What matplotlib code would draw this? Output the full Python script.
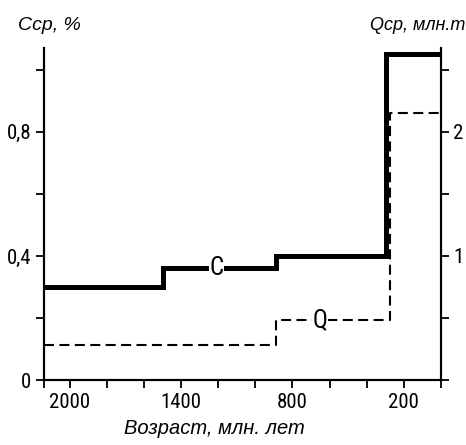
import matplotlib
matplotlib.use("Agg")
import matplotlib.pyplot as plt
from matplotlib import font_manager
from matplotlib.ft2font import FT2Font

# step boundaries (age, Ma) and mean values per interval
c_edges = [2140, 1500, 890, 295, 0]
c_values = [0.30, 0.36, 0.40, 1.05]
q_edges = [2140, 890, 275, 0]
q_values = [0.28, 0.48, 2.15]

x_ticks = [2140, 2000, 1800, 1600, 1400, 1200, 1000, 800, 600, 400, 200, 0]
x_labels = ["", "2000", "", "", "1400", "", "", "800", "", "", "200", ""]
c_ticks = [0, 0.2, 0.4, 0.6, 0.8, 1.0]
c_labels = ["0", "", "0,4", "", "0,8", ""]
q_ticks = [0, 0.5, 1, 1.5, 2, 2.5]
q_labels = ["", "", "1", "", "2", ""]


def has_cyrillic(path):
    try:
        return ord("л") in FT2Font(path).get_charmap()
    except Exception:
        return False


# narrow face with Cyrillic for numbers, if any is installed
preferred = ["Liberation Sans Narrow", "Arial Narrow", "PT Sans Narrow",
             "Roboto Condensed", "Open Sans Condensed", "Fira Sans Condensed",
             "IBM Plex Sans Condensed", "Archivo Narrow", "Asap Condensed"]
fonts = font_manager.fontManager.ttflist
narrow = "Liberation Sans"
for name in preferred:
    files = [f for f in fonts if f.name == name]
    if files and any(f.style == "italic" for f in files) and has_cyrillic(files[0].fname):
        narrow = name
        break
plt.rcParams["font.family"] = [narrow, "DejaVu Sans"]
plt.rcParams["font.size"] = 15
title_font = dict(family=["Liberation Sans", "DejaVu Sans"], style="italic")


def steps(edges, values):
    return list(edges), list(values) + [values[-1]]


fig = plt.figure(figsize=(4.66, 4.45), dpi=100)
ax = fig.add_axes([0.094, 0.146, 0.852, 0.746])
ax2 = ax.twinx()

x, y = steps(c_edges, c_values)
ax.step(x, y, where="post", color="black", lw=3.6, solid_joinstyle="miter")
x, y = steps(q_edges, q_values)
ax2.step(x, y, where="post", color="black", lw=1.5, linestyle=(0, (4.8, 2.6)))

ax.set_xlim(2140, 0)
ax.set_ylim(0, 1.07)
ax2.set_ylim(0, 1.07 * 2.5)

ax.set_xticks(x_ticks)
ax.set_xticklabels(x_labels)
ax.set_yticks(c_ticks)
ax.set_yticklabels(c_labels)
ax2.set_yticks(q_ticks)
ax2.set_yticklabels(q_labels)

for a in (ax, ax2):
    for s in a.spines.values():
        s.set_linewidth(1.5)
    a.spines["top"].set_visible(False)
    a.tick_params(direction="out", length=6, width=1.3, pad=3)

ax.text(1210, 0.36, "C", ha="center", va="center", fontsize=18,
        bbox=dict(facecolor="white", edgecolor="none", pad=0.5))
ax2.text(650, 0.48, "Q", ha="center", va="center", fontsize=18,
         bbox=dict(facecolor="white", edgecolor="none", pad=0.5))

fig.text(0.107, 0.942, "Сср, %", ha="center", va="center", fontsize=14, **title_font)
fig.text(0.999, 0.942, "Qср, млн.т", ha="right", va="center", fontsize=13, **title_font)
fig.text(0.461, 0.038, "Возраст, млн. лет", ha="center", va="center",
         fontsize=14.5, **title_font)

fig.savefig("out.png", dpi=100)
